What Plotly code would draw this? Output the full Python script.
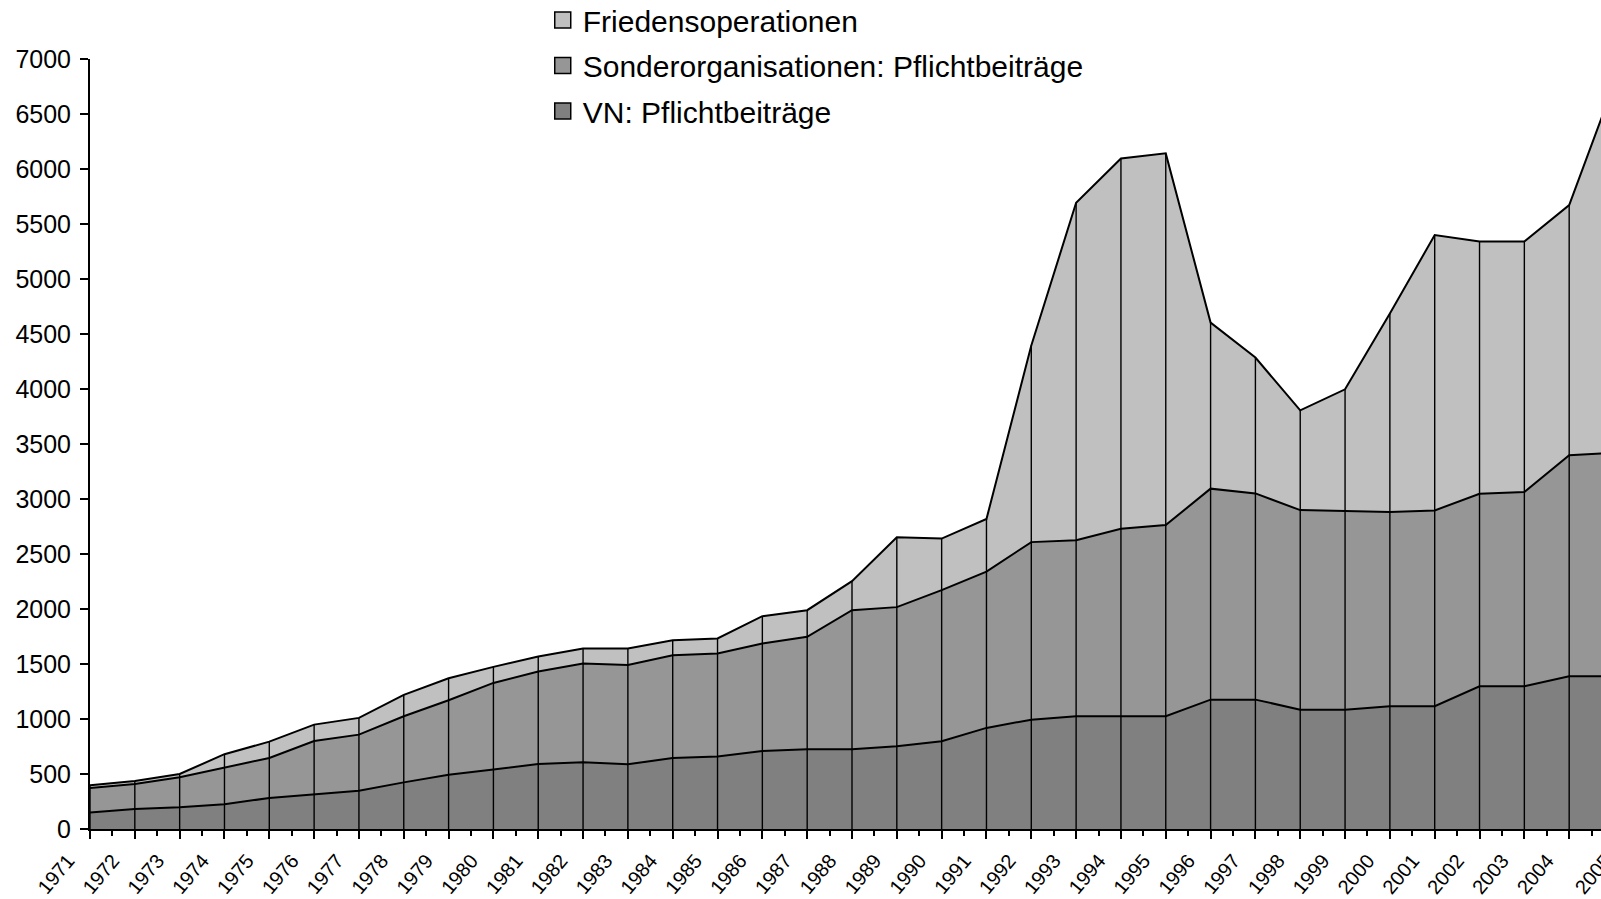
import plotly.graph_objects as go

years = list(range(1971, 2006))
tick_labels = [str(y) for y in years]

vn_pflicht = [151, 182, 197, 225, 282, 312, 348, 424, 494, 540, 591, 606, 588, 646,
              660, 710, 725, 725, 752, 797, 919, 994, 1025, 1025, 1025, 1176, 1176,
              1085, 1085, 1116, 1116, 1298, 1298, 1389, 1389]
sonder_pflicht = [222, 228, 273, 330, 364, 488, 510, 601, 676, 788, 840, 898, 904, 934,
                  935, 976, 1022, 1264, 1265, 1374, 1421, 1614, 1601, 1705, 1738, 1918,
                  1875, 1814, 1802, 1765, 1780, 1750, 1765, 2008, 2031]
frieden = [24, 27, 30, 125, 148, 149, 152, 194, 200, 146, 137, 137, 149, 136, 137, 249,
           242, 264, 636, 469, 478, 1787, 3067, 3366, 3379, 1510, 1235, 907, 1110, 1805,
           2503, 2293, 2278, 2275, 3350]

names = ["VN: Pflichtbeiträge", "Sonderorganisationen: Pflichtbeiträge", "Friedensoperationen"]
colors = ["#808080", "#969696", "#C0C0C0"]
series = [vn_pflicht, sonder_pflicht, frieden]

FONT = "Liberation Sans, Arial, sans-serif"
X_END = 2004.71
W, H = 1601, 899
ML, MT, MB = 90, 59, 70
PLOT_H = H - MT - MB

fig = go.Figure()
for name, col, vals in zip(names, colors, series):
    fig.add_trace(go.Scatter(
        x=years, y=vals, name=name, stackgroup="one", mode="lines",
        fillcolor=col, line=dict(color="black", width=2), showlegend=False,
        hoverinfo="x+y+name"))

# drop lines at each year
totals = [a + b + c for a, b, c in zip(vn_pflicht, sonder_pflicht, frieden)]
dx, dy = [], []
for yr, t in zip(years, totals):
    dx += [yr, yr, None]
    dy += [0, t, None]
fig.add_trace(go.Scatter(x=dx, y=dy, mode="lines", line=dict(color="black", width=1.4),
                         showlegend=False, hoverinfo="skip"))

# legend entries (square swatches), top to bottom
for i, (name, col) in enumerate(zip(names[::-1], colors[::-1])):
    fig.add_trace(go.Scatter(
        x=[None], y=[None], mode="markers", name=name, legendgroup=f"g{i}",
        marker=dict(symbol="square", size=16, color=col, line=dict(color="black", width=1.5))))

fig.add_annotation(
    text="2005", xref="paper", yref="paper",
    x=(2005 - 1971) / (X_END - 1971), y=0, xanchor="right", yanchor="top",
    xshift=5, yshift=-18, textangle=-50, showarrow=False,
    font=dict(family=FONT, size=20, color="black"))

fig.update_layout(
    template="none",
    width=W, height=H,
    margin=dict(l=ML, r=0, t=MT, b=MB, pad=0, autoexpand=False),
    paper_bgcolor="white", plot_bgcolor="white",
    font=dict(family=FONT, color="black"),
    showlegend=True,
    legend=dict(
        xref="container", yref="paper", x=0.339, y=1 + 65 / PLOT_H,
        xanchor="left", yanchor="top", traceorder="grouped",
        font=dict(family=FONT, size=30, color="black"),
        bgcolor="rgba(0,0,0,0)", borderwidth=0, tracegroupgap=3.5, itemclick=False),
    xaxis=dict(
        range=[1971, X_END], tickmode="array", tickvals=years, ticktext=tick_labels,
        tickangle=-50, ticks="outside", ticklen=8, tickwidth=1.5, tickcolor="black",
        showline=True, linecolor="black", linewidth=2, showgrid=False, zeroline=False,
        automargin=False,
        tickfont=dict(family=FONT, size=20, color="black"),
        ticklabelshift=-22, ticklabelstandoff=2,
        minor=dict(tickvals=[y + 0.5 for y in years], ticks="outside", ticklen=5,
                   tickwidth=1.5, tickcolor="black", showgrid=False)),
    yaxis=dict(
        range=[0, 7000], dtick=500, ticks="outside", ticklen=8, tickwidth=1.5,
        tickcolor="black", showline=True, linecolor="black", linewidth=2,
        showgrid=False, zeroline=False, automargin=False, ticklabelstandoff=4,
        tickfont=dict(family=FONT, size=25, color="black")),
)

fig.write_html("out.html", config={"displayModeBar": False},
               post_script="document.body.style.margin='0';document.body.style.overflow='hidden';")
